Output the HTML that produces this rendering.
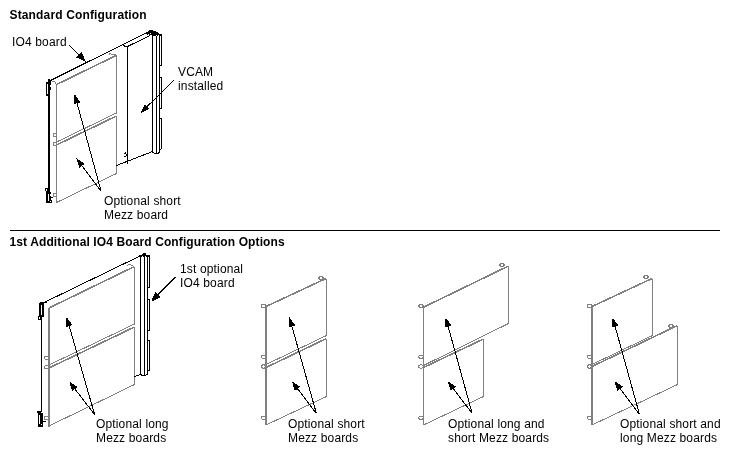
<!DOCTYPE html>
<html><head><meta charset="utf-8">
<style>
html,body{margin:0;padding:0;background:#fff;}
body{width:730px;height:455px;overflow:hidden;position:relative;}
svg{position:absolute;left:0;top:0;will-change:transform;}
text{font-family:"Liberation Sans",sans-serif;font-size:12px;fill:#000;letter-spacing:0.15px;}
.b{font-weight:bold;letter-spacing:0.15px;}
.k{stroke:#000;stroke-width:1;fill:none;}
line,path,polygon,rect,ellipse{shape-rendering:crispEdges;}
.k2{stroke:#000;stroke-width:2;fill:none;}
.g{stroke:#808080;stroke-width:1;fill:none;}
.g2{stroke:#808080;stroke-width:1.6;fill:none;}
.ah{fill:#000;stroke:none;}
</style></head>
<body>
<svg width="730" height="455" viewBox="0 0 730 455">
<text class="b" x="9.5" y="19">Standard Configuration</text>
<text class="b" x="9.5" y="246" style="letter-spacing:0.11px">1st Additional IO4 Board Configuration Options</text>
<line class="k" x1="10" y1="230.5" x2="720" y2="230.5"/>
<text x="12" y="45.5">IO4 board</text>
<text x="178" y="76">VCAM</text>
<text x="178" y="89.5">installed</text>
<text x="104" y="204.5">Optional short</text>
<text x="104" y="218.5">Mezz board</text>
<text x="180" y="273">1st optional</text>
<text x="180" y="287">IO4 board</text>
<text x="96" y="427.5">Optional long</text>
<text x="96" y="441.5">Mezz boards</text>
<text x="288" y="427.5">Optional short</text>
<text x="288" y="441.5">Mezz boards</text>
<text x="448" y="427.5">Optional long and</text>
<text x="448" y="441.5">short Mezz boards</text>
<text x="620" y="427.5">Optional short and</text>
<text x="620" y="441.5">long Mezz boards</text>
<line class="k" x1="49" y1="81.2" x2="151" y2="30.5"/>
<line class="k2" x1="49" y1="80" x2="49" y2="192"/>
<polygon class="ah" points="46,82 48,82 48,79.5 50,79 51.5,81 51,84 50,85 51,89 50,90 50,95.5 46,95.5"/>
<rect x="47" y="84" width="1" height="10" fill="#fff"/>
<polygon class="ah" points="45,188 50,188 50,192 51,192 51,194 50,194 50,196 51,196 51,197 53,197 53,198 51,198 51,200 52,200 52,203 46,203 46,191 45,191"/>
<rect x="46" y="189" width="1" height="2" fill="#fff"/>
<rect x="48" y="194" width="1" height="7" fill="#fff"/>
<rect x="50" y="201" width="1" height="1" fill="#fff"/>
<line class="g2" x1="56" y1="84.8" x2="116.5" y2="55.3"/>
<line class="g" x1="56.5" y1="85" x2="56.5" y2="202.5"/>
<line class="g" x1="116.5" y1="55" x2="116.5" y2="113"/>
<line class="g" x1="116.5" y1="113" x2="56.5" y2="142"/>
<line class="g2" x1="116.5" y1="116" x2="56.5" y2="145"/>
<line class="g" x1="116.5" y1="116" x2="116.5" y2="173.5"/>
<line class="g" x1="116.5" y1="173.5" x2="56.5" y2="202.5"/>
<path class="g" d="M56 133 H53 V136 H56"/>
<path class="g" d="M56 142.5 H53 V145.5 H56"/>
<path class="g" d="M56 193.5 H53 V196.5 H56"/>
<path class="g" d="M108.5 55.5 L110 53.5 L112 54.5 L116 55"/>
<path class="g" d="M52.5 82 L54.5 81.5 L56.5 84.5"/>
<path class="k" d="M123 44.5 L125 46.5 L127.5 46.5 L150 35.5"/>
<line class="k" x1="127.5" y1="46.5" x2="127.5" y2="163.5"/>
<path class="k" d="M124 154 L125.5 153 L126.5 155.5 L124 157"/>
<line class="k" x1="116.5" y1="165.5" x2="152.5" y2="151.5"/>
<line class="k" x1="152.5" y1="33" x2="152.5" y2="152"/>
<line class="k" x1="156.5" y1="35.5" x2="156.5" y2="153.5"/>
<line class="k" x1="159.5" y1="35" x2="159.5" y2="152.5"/>
<path class="k" d="M159.5 35 H161.5 V65.5 H159.5"/>
<path class="k" d="M159.5 77.5 H161.5 V108 L159.5 108.5"/>
<path class="k" d="M159.5 118 H161.5 V148.5 L159.5 150.5"/>
<path class="k" d="M152.5 152 L155 153.5 L157.5 153.5 L159.5 152.5"/>
<polygon class="ah" points="146,33 148,31 150,30 152,30 153,31 154.5,31 155,30.5 156.5,32 158.5,33 159,34.5 157.5,36 155,36.5 153,36 151,35 148,35.5"/>
<path class="k" d="M159.5 34.5 L161.5 35"/>
<rect x="150" y="33" width="1" height="1" fill="#fff"/>
<rect x="148" y="34" width="1" height="1" fill="#fff"/>
<rect x="156" y="35" width="1" height="1" fill="#fff"/>
<line class="k" x1="69.00" y1="45.00" x2="79.81" y2="55.68"/>
<polygon class="ah" points="86.00,61.80 76.00,57.40 81.49,51.86"/>
<line class="k" x1="173.80" y1="80.20" x2="146.09" y2="107.58"/>
<polygon class="ah" points="140.40,113.20 144.77,104.10 149.55,108.94"/>
<line class="k" x1="101.00" y1="191.00" x2="76.70" y2="101.82"/>
<polygon class="ah" points="74.60,94.10 80.38,102.37 73.82,104.16"/>
<line class="k" x1="101.00" y1="191.00" x2="81.11" y2="164.59"/>
<polygon class="ah" points="76.30,158.20 84.73,163.74 79.30,167.83"/>
<line class="k" x1="42" y1="303.5" x2="143.5" y2="254.3"/>
<line class="k" x1="41.5" y1="303" x2="41.5" y2="412"/>
<polygon class="ah" points="39,303 40,302 47,302 47,303 44,303 44,317 41,317 41,320 38,320 38,316 39,316"/>
<rect x="41" y="305" width="1" height="10" fill="#fff"/>
<rect x="39" y="317" width="1" height="2" fill="#fff"/>
<polygon class="ah" points="37,411 41,411 41,413 43,413 43,421 45.5,421 45.5,422 43,422 43,426.5 38,426.5 38,413 37,413"/>
<rect x="39" y="415" width="1" height="9" fill="#fff"/>
<rect x="41" y="424" width="1" height="1" fill="#fff"/>
<line class="g2" x1="49" y1="308" x2="134.5" y2="266.5"/>
<line class="g2" x1="49" y1="308" x2="49" y2="426.5"/>
<line class="g" x1="134.5" y1="266.5" x2="134.5" y2="324"/>
<line class="g" x1="134.5" y1="324" x2="49" y2="365"/>
<line class="g2" x1="134.5" y1="327" x2="49" y2="368"/>
<line class="g" x1="134.5" y1="327" x2="134.5" y2="384.5"/>
<line class="g" x1="134.5" y1="384.5" x2="49" y2="426"/>
<ellipse class="g" cx="46.5" cy="357.7" rx="2.2" ry="1.7"/>
<ellipse class="g" cx="46.5" cy="367.2" rx="2.2" ry="1.7"/>
<ellipse class="g" cx="46.5" cy="418" rx="2.2" ry="1.7"/>
<path class="g" d="M127 266 L129 264.5 L131 265 L134.5 266.5"/>
<line class="k" x1="140.5" y1="255.5" x2="140.5" y2="374.5"/>
<line class="k" x1="144.5" y1="256" x2="144.5" y2="375.5"/>
<line class="k" x1="147.5" y1="256" x2="147.5" y2="374"/>
<path class="k" d="M147.5 256 H149.5 V287.5 H147.5"/>
<path class="k" d="M147.5 299 H149.5 V330 H147.5"/>
<path class="k" d="M147.5 340 H149.5 V370.5 H147.5"/>
<path class="k" d="M140.5 374.5 L142.5 375.5 L145 375.5 L147.5 374"/>
<polygon class="ah" points="139,255 141.5,254.5 143,253 145.5,253 146,255 150,255 150.5,257 139,257"/>
<rect x="142" y="256" width="1" height="1" fill="#fff"/>
<rect x="145" y="256" width="1" height="1" fill="#fff"/>
<line class="k" x1="134.5" y1="376.5" x2="140.5" y2="374.5"/>
<line class="k" x1="175.80" y1="276.90" x2="157.15" y2="295.55"/>
<polygon class="ah" points="151.00,301.70 155.45,291.73 160.97,297.25"/>
<line class="k" x1="94.60" y1="414.60" x2="68.80" y2="324.59"/>
<polygon class="ah" points="66.60,316.90 72.49,325.10 65.95,326.97"/>
<line class="k" x1="94.60" y1="414.60" x2="74.07" y2="387.85"/>
<polygon class="ah" points="69.20,381.50 77.68,386.97 72.29,391.11"/>
<line class="g2" x1="265" y1="307" x2="326" y2="278.5"/>
<line class="g2" x1="266" y1="307" x2="266" y2="425"/>
<line class="g" x1="326.5" y1="278.5" x2="326.5" y2="335.5"/>
<line class="g" x1="326.5" y1="335.5" x2="266" y2="364.5"/>
<line class="g2" x1="326.5" y1="338.5" x2="266" y2="367.5"/>
<line class="g" x1="326.5" y1="338.5" x2="326.5" y2="396.5"/>
<line class="g" x1="326.5" y1="396.5" x2="266" y2="425"/>
<ellipse class="g" cx="263.5" cy="356.7" rx="2.2" ry="1.7"/>
<ellipse class="g" cx="263.5" cy="366.5" rx="2.2" ry="1.7"/>
<ellipse class="g" cx="263.5" cy="417.7" rx="2.2" ry="1.7"/>
<ellipse class="g" cx="263.5" cy="306" rx="2.2" ry="1.7"/>
<ellipse class="g" cx="321" cy="278" rx="2.2" ry="1.7"/>
<line class="k" x1="316.40" y1="413.50" x2="291.47" y2="324.80"/>
<polygon class="ah" points="289.30,317.10 295.14,325.33 288.60,327.17"/>
<line class="k" x1="316.40" y1="413.50" x2="296.65" y2="387.56"/>
<polygon class="ah" points="291.80,381.20 300.26,386.70 294.85,390.82"/>
<line class="g2" x1="423" y1="307.5" x2="508.5" y2="266"/>
<line class="g" x1="423.5" y1="307" x2="423.5" y2="425"/>
<line class="g" x1="508.5" y1="266" x2="508.5" y2="323.5"/>
<line class="g" x1="508.5" y1="323.5" x2="423.5" y2="365.5"/>
<line class="g2" x1="483.5" y1="339" x2="423.5" y2="367.5"/>
<line class="g" x1="483.5" y1="339" x2="483.5" y2="396.5"/>
<line class="g" x1="483.5" y1="396.5" x2="423.5" y2="425"/>
<ellipse class="g" cx="421" cy="356.7" rx="2.2" ry="1.7"/>
<ellipse class="g" cx="421" cy="366.5" rx="2.2" ry="1.7"/>
<ellipse class="g" cx="421" cy="417.7" rx="2.2" ry="1.7"/>
<ellipse class="g" cx="421" cy="306" rx="2.2" ry="1.7"/>
<ellipse class="g" cx="502" cy="265" rx="2.2" ry="1.7"/>
<line class="k" x1="472.20" y1="413.50" x2="447.73" y2="325.01"/>
<polygon class="ah" points="445.60,317.30 451.41,325.55 444.85,327.36"/>
<line class="k" x1="472.20" y1="413.50" x2="452.44" y2="387.47"/>
<polygon class="ah" points="447.60,381.10 456.05,386.61 450.64,390.72"/>
<line class="g2" x1="591" y1="307" x2="652" y2="278.5"/>
<line class="g2" x1="592" y1="307" x2="592" y2="425"/>
<line class="g" x1="652.5" y1="278.5" x2="652.5" y2="335.5"/>
<line class="g" x1="652.5" y1="335.5" x2="592" y2="364.5"/>
<line class="g2" x1="677.5" y1="325.5" x2="592" y2="366.5"/>
<line class="g" x1="677.5" y1="325.5" x2="677.5" y2="384.5"/>
<line class="g" x1="677.5" y1="384.5" x2="592" y2="425"/>
<ellipse class="g" cx="589.5" cy="356.7" rx="2.2" ry="1.7"/>
<ellipse class="g" cx="589.5" cy="366.5" rx="2.2" ry="1.7"/>
<ellipse class="g" cx="589.5" cy="417.7" rx="2.2" ry="1.7"/>
<ellipse class="g" cx="589.5" cy="306" rx="2.2" ry="1.7"/>
<ellipse class="g" cx="646" cy="277" rx="2.2" ry="1.7"/>
<ellipse class="g" cx="671" cy="326" rx="2.2" ry="1.7"/>
<line class="k" x1="639.50" y1="414.50" x2="614.74" y2="325.11"/>
<polygon class="ah" points="612.60,317.40 618.41,325.65 611.86,327.46"/>
<line class="k" x1="639.50" y1="414.50" x2="619.21" y2="387.50"/>
<polygon class="ah" points="614.40,381.10 622.83,386.65 617.39,390.74"/>
</svg>
</body></html>
